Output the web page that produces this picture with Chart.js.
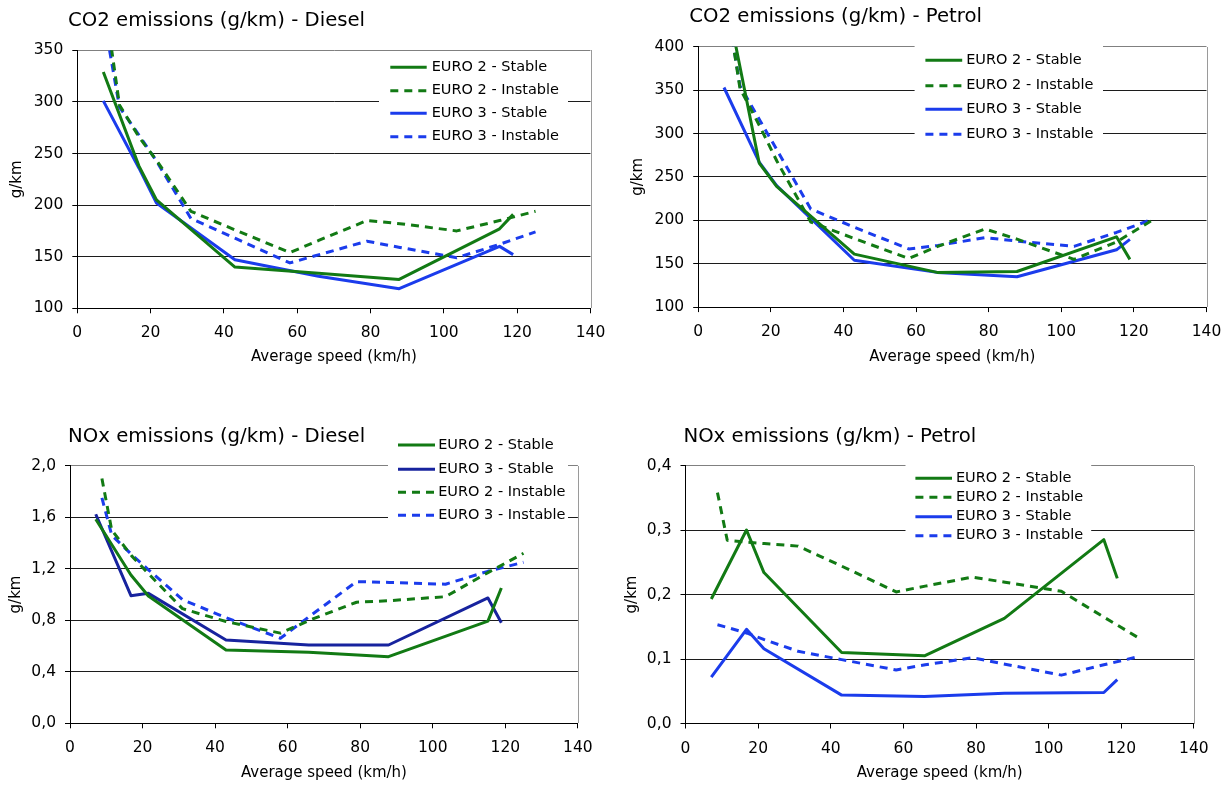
<!DOCTYPE html>
<html><head><meta charset="utf-8">
<script src="https://cdn.jsdelivr.net/npm/chart.js@4/dist/chart.umd.min.js"></script>
<style>
html,body{margin:0;padding:0;background:#fff;width:1232px;height:785px;overflow:hidden}
canvas{position:absolute}
</style></head><body>
<canvas id="c1" width="616" height="392" style="left:0;top:0"></canvas>
<canvas id="c2" width="616" height="392" style="left:616px;top:0"></canvas>
<canvas id="c3" width="616" height="393" style="left:0;top:392px"></canvas>
<canvas id="c4" width="616" height="393" style="left:616px;top:392px"></canvas>
<script>
// ---------- DATA ----------
const speedStable   = [7.1, 16.8, 21.6, 43, 65.8, 87.8, 115.2, 118.9];
const speedInstable = [8.8, 11.5, 17, 21.7, 31, 43, 58, 66, 79, 88, 103.5, 115.2, 125];
const xTickValues   = [0, 20, 40, 60, 80, 100, 120, 140];

const titleCO2Diesel = 'CO2 emissions (g/km) - Diesel';
const titleCO2Petrol = 'CO2 emissions (g/km) - Petrol';
const titleNOxDiesel = 'NOx emissions (g/km) - Diesel';
const titleNOxPetrol = 'NOx emissions (g/km) - Petrol';
const xAxisTitle = 'Average speed (km/h)';
const yAxisTitle = 'g/km';
const labelE2Stable = 'EURO 2 - Stable';
const labelE2Instable = 'EURO 2 - Instable';
const labelE3Stable = 'EURO 3 - Stable';
const labelE3Instable = 'EURO 3 - Instable';

// CO2 Diesel
const co2DieselTicks      = [100, 150, 200, 250, 300, 350];
const co2DieselE2Stable   = [329, 238, 205, 140, 134, 128, 177, 191];
const co2DieselE3Stable   = [301, 236, 202, 147, 131, 119, 160, 152];
const co2DieselE2Instable = [365, 297, 265, 243, 194, 176, 154, 166, 185, 182, 175, 185, 194];
const co2DieselE3Instable = [350, 295, 267, 242, 187, 168, 144, 152, 165, 159, 149, 162, 174];

// CO2 Petrol
const co2PetrolTicks      = [100, 150, 200, 250, 300, 350, 400];
const co2PetrolE2Stable   = [469, 266, 239, 161, 140, 141, 181, 155];
const co2PetrolE3Stable   = [353, 267, 240, 154, 140, 135, 166, 178];
const co2PetrolE2Instable = [425, 352, 308, 268, 198, 179, 156, 170, 190, 178, 155, 175, 200];
const co2PetrolE3Instable = [425, 355, 315, 281, 213, 192, 167, 171, 180, 176, 170, 186, 201];

// NOx Diesel
const noxDieselTicks      = [0, 0.4, 0.8, 1.2, 1.6, 2.0];
const noxDieselE2Stable   = [1.584, 1.151, 0.988, 0.569, 0.551, 0.517, 0.793, 1.05];
const noxDieselE3Stable   = [1.623, 0.991, 1.009, 0.647, 0.608, 0.608, 0.973, 0.781];
const noxDieselE2Instable = [1.90, 1.50, 1.30, 1.16, 0.89, 0.79, 0.70, 0.80, 0.94, 0.952, 0.983, 1.17, 1.32];
const noxDieselE3Instable = [1.75, 1.46, 1.31, 1.19, 0.96, 0.82, 0.66, 0.83, 1.10, 1.094, 1.08, 1.18, 1.25];

// NOx Petrol
const noxPetrolTicks      = [0, 0.1, 0.2, 0.3, 0.4];
const noxPetrolE2Stable   = [0.193, 0.300, 0.234, 0.110, 0.105, 0.163, 0.285, 0.225];
const noxPetrolE3Stable   = [0.072, 0.146, 0.116, 0.044, 0.042, 0.047, 0.048, 0.068];
const noxPetrolE2Instable = [0.358, 0.284, 0.281, 0.279, 0.275, 0.244, 0.204, 0.213, 0.227, 0.219, 0.205, 0.165, 0.132];
const noxPetrolE3Instable = [0.153, 0.149, 0.140, 0.130, 0.112, 0.099, 0.083, 0.091, 0.102, 0.092, 0.075, 0.091, 0.104];

// ---------- STYLE ----------
const GREEN = '#127a14', BLUE = '#1b3cec', NAVY = '#17239e';
const FONT = 'DejaVu Sans';

const decor = {
  id: 'decor',
  beforeDatasetsDraw(chart, args, o) {
    const ctx = chart.ctx, a = chart.chartArea;
    ctx.save();
    ctx.strokeStyle = '#9a9a9a'; ctx.lineWidth = 1;
    const rx = Math.round(a.right) + 0.5;
    ctx.beginPath(); ctx.moveTo(rx, Math.round(a.top)); ctx.lineTo(rx, Math.round(a.bottom)); ctx.stroke();
    const L = o.legend;
    ctx.fillStyle = '#fff'; ctx.fillRect(L.x, L.y, L.w, L.h);
    ctx.font = '14.5px "' + FONT + '"'; ctx.textBaseline = 'middle'; ctx.textAlign = 'left';
    chart.data.datasets.forEach((ds, i) => {
      const y = L.rows[i];
      ctx.strokeStyle = ds.borderColor; ctx.lineWidth = ds.borderWidth;
      ctx.setLineDash(ds.borderDash || []);
      ctx.beginPath(); ctx.moveTo(L.x0, y); ctx.lineTo(L.x1, y); ctx.stroke();
      ctx.setLineDash([]);
      ctx.fillStyle = '#000';
      ctx.fillText(ds.label, L.tx, y);
    });
    ctx.fillStyle = '#000';
    ctx.font = '19.7px "' + FONT + '"';
    ctx.fillText(o.title.text, o.title.x, o.title.y);
    ctx.restore();
  }
};

function makeChart(id, cfg) {
  const yMax = cfg.ticks[cfg.ticks.length - 1], yMin = cfg.ticks[0];
  return new Chart(document.getElementById(id), {
    type: 'line',
    data: {
      datasets: cfg.series.map(s => ({
        label: s.label,
        data: s.xs.map((x, i) => ({ x: x, y: s.ys[i] })),
        borderColor: s.color, backgroundColor: s.color,
        borderWidth: 3, borderDash: s.dash ? [8, 6] : [],
        pointRadius: 0, tension: 0, fill: false, borderJoinStyle: 'round'
      }))
    },
    options: {
      responsive: false, animation: false, devicePixelRatio: 1,
      layout: { padding: cfg.pad },
      plugins: {
        legend: { display: false }, title: { display: false }, tooltip: { enabled: false },
        decor: { legend: cfg.legend, title: cfg.title }
      },
      scales: {
        x: {
          type: 'linear', min: 0, max: 140,
          afterBuildTicks: s => { s.ticks = xTickValues.map(v => ({ value: v })); },
          afterFit: s => { s.height = cfg.xH; },
          grid: { drawOnChartArea: false, drawTicks: true, tickLength: 5, tickColor: '#000', color: '#000' },
          border: { color: '#000', width: 1 },
          ticks: { font: { family: FONT, size: 15.5 }, color: '#000', padding: 10.7, maxRotation: 0, autoSkip: false },
          title: { display: true, text: xAxisTitle, font: { family: FONT, size: 15 }, color: '#000', padding: 0 }
        },
        y: {
          type: 'linear', min: yMin, max: yMax,
          afterBuildTicks: s => { s.ticks = cfg.ticks.map(v => ({ value: v })); },
          afterFit: s => { s.width = cfg.yW; },
          grid: {
            color: c => (c.tick && Math.abs(c.tick.value - yMax) < 1e-9) ? '#808080' : '#1c1c1c',
            tickLength: 5, tickColor: '#000'
          },
          border: { color: '#000', width: 1 },
          ticks: { font: { family: FONT, size: 15.5 }, color: '#000', padding: 9, callback: cfg.fmt },
          title: { display: true, text: yAxisTitle, font: { family: FONT, size: 15 }, color: '#000', padding: 0 }
        }
      }
    },
    plugins: [decor]
  });
}

const fmtInt = v => String(v);
const fmtComma = v => Number(v).toFixed(1).replace('.', ',');

makeChart('c1', {
  ticks: co2DieselTicks, fmt: fmtInt,
  pad: { left: 8.2, right: 25.3, top: 50.3, bottom: 26 }, yW: 69.1, xH: 57.7,
  title: { text: titleCO2Diesel, x: 68, y: 20.7 },
  legend: { x: 379, y: 55, w: 189, h: 93, rows: [67.3, 90.7, 113.3, 136.7], x0: 390.3, x1: 426.7, tx: 431.7 },
  series: [
    { label: labelE2Stable,   xs: speedStable,   ys: co2DieselE2Stable,   color: GREEN, dash: false },
    { label: labelE2Instable, xs: speedInstable, ys: co2DieselE2Instable, color: GREEN, dash: true },
    { label: labelE3Stable,   xs: speedStable,   ys: co2DieselE3Stable,   color: BLUE,  dash: false },
    { label: labelE3Instable, xs: speedInstable, ys: co2DieselE3Instable, color: BLUE,  dash: true }
  ]
});

makeChart('c2', {
  ticks: co2PetrolTicks, fmt: fmtInt,
  pad: { left: 12.8, right: 25, top: 46.7, bottom: 25.7 }, yW: 69.4, xH: 59.2,
  title: { text: titleCO2Petrol, x: 73.3, y: 17.3 },
  legend: { x: 298.6, y: 44, w: 188.4, h: 102, rows: [60.3, 85.7, 109.3, 134.3], x0: 309.4, x1: 346.2, tx: 350.2 },
  series: [
    { label: labelE2Stable,   xs: speedStable,   ys: co2PetrolE2Stable,   color: GREEN, dash: false },
    { label: labelE2Instable, xs: speedInstable, ys: co2PetrolE2Instable, color: GREEN, dash: true },
    { label: labelE3Stable,   xs: speedStable,   ys: co2PetrolE3Stable,   color: BLUE,  dash: false },
    { label: labelE3Instable, xs: speedInstable, ys: co2PetrolE3Instable, color: BLUE,  dash: true }
  ]
});

makeChart('c3', {
  ticks: noxDieselTicks, fmt: fmtComma,
  pad: { left: 7, right: 38.1, top: 73.7, bottom: 2.7 }, yW: 63, xH: 59,
  title: { text: titleNOxDiesel, x: 68, y: 45 },
  legend: { x: 388, y: 38, w: 180, h: 93, rows: [53, 77.3, 100.3, 123.3], x0: 398, x1: 435, tx: 438.2 },
  series: [
    { label: labelE2Stable,   xs: speedStable,   ys: noxDieselE2Stable,   color: GREEN, dash: false },
    { label: labelE3Stable,   xs: speedStable,   ys: noxDieselE3Stable,   color: NAVY,  dash: false },
    { label: labelE2Instable, xs: speedInstable, ys: noxDieselE2Instable, color: GREEN, dash: true },
    { label: labelE3Instable, xs: speedInstable, ys: noxDieselE3Instable, color: BLUE,  dash: true }
  ]
});

makeChart('c4', {
  ticks: noxPetrolTicks, fmt: fmtComma,
  pad: { left: 6.8, right: 38.1, top: 73.5, bottom: 2.7 }, yW: 62.7, xH: 58.8,
  title: { text: titleNOxPetrol, x: 67.4, y: 44.7 },
  legend: { x: 289.5, y: 72, w: 185.7, h: 81, rows: [86.3, 105.3, 124.7, 143.7], x0: 299.4, x1: 336, tx: 339.9 },
  series: [
    { label: labelE2Stable,   xs: speedStable,   ys: noxPetrolE2Stable,   color: GREEN, dash: false },
    { label: labelE2Instable, xs: speedInstable, ys: noxPetrolE2Instable, color: GREEN, dash: true },
    { label: labelE3Stable,   xs: speedStable,   ys: noxPetrolE3Stable,   color: BLUE,  dash: false },
    { label: labelE3Instable, xs: speedInstable, ys: noxPetrolE3Instable, color: BLUE,  dash: true }
  ]
});
</script>
</body></html>
